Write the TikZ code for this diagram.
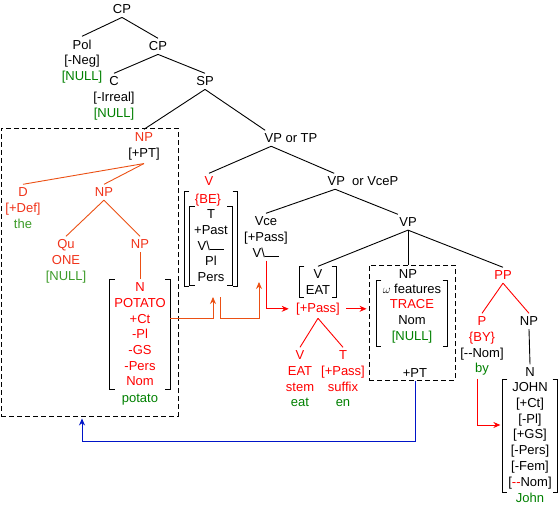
\documentclass[tikz,border=0pt]{standalone}
\usepackage{fontspec}
\setmainfont{Liberation Sans}
\usetikzlibrary{arrows.meta,fit}

\definecolor{grn}{RGB}{0,128,0}
\definecolor{lgrn}{RGB}{60,155,40}
\definecolor{ored}{RGB}{240,50,25}
\definecolor{oline}{RGB}{235,80,20}
\definecolor{bline}{RGB}{0,20,200}

\newcommand\brackets[1]{%
  \draw ([xshift=5pt]#1.north west) -- (#1.north west) -- (#1.south west) -- ([xshift=5pt]#1.south west);
  \draw ([xshift=-5pt]#1.north east) -- (#1.north east) -- (#1.south east) -- ([xshift=-5pt]#1.south east);}

\begin{document}
\begin{tikzpicture}[
  x=1pt, y=-1pt, line width=0.9pt,
  font=\fontsize{13}{15.7}\selectfont,
  lbl/.style={anchor=north, align=center, inner xsep=1pt, inner ysep=3pt},
  olbl/.style={lbl, text=ored},
  rlbl/.style={lbl, text=red},
  brk/.style={lbl, inner xsep=4pt},
  dbox/.style={draw, dash pattern=on 5pt off 3pt, inner sep=0pt},
  oln/.style={draw=oline},
  rln/.style={draw=red},
  ar/.style={-{Stealth[length=7pt,width=6pt]}},
  oar/.style={ar, draw=oline},
  rar/.style={ar, draw=red},
  bar/.style={ar, draw=bline},
]
\useasboundingbox (0,0) rectangle (558,519);

%% ---------- top of the tree ----------
\node[lbl] (cp) at (122,1.3) {CP};
\node[lbl] (pol) at (82,36.3) {Pol\\{}[-Neg]\\\textcolor{grn}{[NULL]}};
\node[lbl] (cpb) at (158,38.3) {CP};
\node[lbl] (c) at (114,73.3) {C\\{}[-Irreal]\\\textcolor{grn}{[NULL]}};
\node[lbl] (sp) at (205,73.3) {SP};
\draw (cp.south) -- (pol.north);
\draw (cp.south) -- (cpb.north);
\draw (cpb.south) -- (c.north);
\draw (cpb.south) -- (sp.north);

%% ---------- subject NP ----------
\node[dbox, fit={(1,128) (178,416)}] (subj) {};
\node[olbl] (npa) at (144,129.3) {NP\\\textcolor{black}{[+PT]}};
\node[olbl] (d) at (23,184.3) {D\\{}[+Def]\\\textcolor{lgrn}{the}};
\node[olbl] (npb) at (104,184.3) {NP};
\node[olbl] (qu) at (66,236.3) {Qu\\ONE\\\textcolor{lgrn}{[NULL]}};
\node[olbl] (npc) at (140,236.3) {NP};
\node[brk, text=red] (potato) at (140,279.3) {N\\POTATO\\+Ct\\-Pl\\-GS\\-Pers\\Nom};
\node[lbl, text=grn] (potatog) at (140,390.3) {potato};
\brackets{potato}
\draw (sp.south) -- (npa.north);
\draw[oln] (npa.south) -- (d.north);
\draw[oln] (npa.south) -- (npb.north);
\draw[oln] (npb.south) -- (qu.north);
\draw[oln] (npb.south) -- (npc.north);
\draw[oln] (npc.south) -- (potato.north);

%% ---------- VP or TP ----------
\node[lbl] (vptp) at (291,130.3) {VP or TP};
\node[rlbl] (vbe) at (209,173.3) {V};
\node[rlbl, inner ysep=1pt] (be) at (208,193) {\{BE\}};
\node[brk] (tense) at (211,206.3) {T\\+Past\\V\textbackslash\rule{1.1em}{0.8pt}\\Pl\\Pers};
\node[fit=(be)(tense), inner xsep=5pt, inner ysep=1pt] (bebox) {};
\brackets{bebox}
\brackets{tense}
\draw (sp.south) -- ([xshift=2pt]vptp.north west);
\draw ([xshift=8pt]vptp.south west) -- (vbe.north);

%% ---------- VP or VceP ----------
\node[lbl] (vcep) at (363,173.3) {VP~ or VceP};
\node[lbl] (vce) at (266,213.3) {Vce\\{}[+Pass]\\V\textbackslash\rule{1.1em}{0.8pt}};
\node[lbl] (vp) at (408,214.3) {VP};
\draw ([xshift=8pt]vptp.south west) -- ([xshift=8pt]vcep.north west);
\draw ([xshift=9pt]vcep.south west) -- (vce.north);
\draw ([xshift=9pt]vcep.south west) -- (vp.north west);

%% ---------- passive verb ----------
\node[brk, inner xsep=6pt] (veat) at (318,266.3) {V\\EAT};
\brackets{veat}
\node[rlbl] (pass) at (318,299.3) {[+Pass]};
\node[rlbl] (vstem) at (300,347.3) {V\\EAT\\stem\\\textcolor{grn}{eat}};
\node[rlbl] (tsuf) at (343,347.3) {T\\{}[+Pass]\\suffix\\\textcolor{grn}{en}};
\draw (vp.south) -- (veat.north);
\draw[rln] (pass.south) -- (vstem.north);
\draw[rln] (pass.south) -- (tsuf.north);

%% ---------- object trace ----------
\node[dbox, fit={(369,265) (455,380)}] (npbox) {};
\node[lbl] (npt) at (408,266.3) {NP};
\node[brk, inner xsep=6pt] (omega) at (412,280.3) {$\omega$ features\\\textcolor{red}{TRACE}\\Nom\\\textcolor{grn}{[NULL]}};
\brackets{omega}
\node[lbl] (pt) at (415,365.3) {+PT};
\draw (vp.south) -- (vp.south |- npbox.north);

%% ---------- by-phrase ----------
\node[rlbl] (pp) at (503,267.3) {PP};
\node[lbl] (p) at (482,313.3) {\textcolor{red}{P}\\\textcolor{red}{\{BY\}}\\{}[-{}-Nom]\\\textcolor{grn}{by}};
\node[lbl] (npj) at (529,313.3) {NP};
\node[lbl] (nj) at (530,364.3) {N};
\node[brk, inner xsep=5.5pt] (john) at (530,379.3) {JOHN\\{}[+Ct]\\{}[-Pl]\\{}[+GS]\\{}[-Pers]\\{}[-Fem]\\{}[\textcolor{red}{-{}-}Nom]};
\brackets{john}
\node[lbl, text=grn] (johng) at (530,489.3) {John};
\draw (vp.south) -- (pp.north);
\draw[rln] (pp.south) -- (p.north);
\draw[rln] (pp.south) -- (npj.north);
\draw (npj.south) -- (nj.north);

%% ---------- movement arrows ----------
\coordinate (o1) at (213,318);
\coordinate (o2) at (213,297);
\coordinate (o3) at (220,297);
\coordinate (o4) at (220,318);
\coordinate (o5) at (259,318);
\coordinate (o6) at (259,282);
\draw[oar] (potato.east |- o1) -- (o1) -- (o2);
\draw[oar] (o3) -- (o4) -- (o5) -- (o6);
\draw[rar, shorten >=6pt] (vce.south) |- (pass.west);
\draw[rar, shorten <=5pt, shorten >=2pt] (pass.east) -- (pass.east -| npbox.west);
\coordinate (byturn) at (477,425);
\draw[rar, shorten >=2pt] (p.south -| byturn) -- (byturn) -- (byturn -| john.west);
\coordinate (bturn) at (82,441);
\draw[bar, shorten >=2pt] (pt.south) |- (bturn) -- (bturn |- subj.south);

\end{tikzpicture}
\end{document}
